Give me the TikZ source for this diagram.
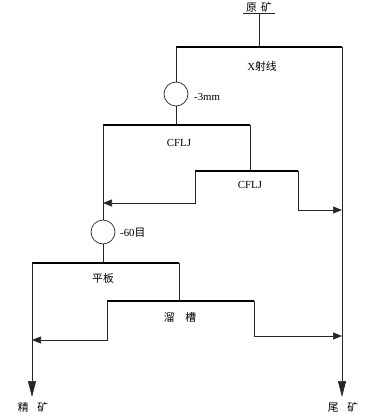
\documentclass[tikz,border=0pt]{standalone}
\usepackage{fontspec}
\setmainfont{Liberation Serif}
\newfontfamily\cjk{Noto Sans CJK SC}
\usetikzlibrary{arrows.meta}
\tikzset{
  thin line/.style={line width=0.7pt, draw=black!85},
  bar/.style={line width=2pt, draw=black},
  lbl/.style={font=\fontsize{10.8}{13}\selectfont, inner sep=1pt},
  circ/.style={circle, draw=black!85, line width=0.7pt, minimum size=24pt, inner sep=0pt},
  harrow/.style={thin line, -{Triangle[length=9pt,width=7pt]}},
  varrow/.style={thin line, -{Triangle[length=16pt,width=8pt]}},
}
\begin{document}
\begin{tikzpicture}[x=1pt,y=-1pt]
\useasboundingbox (0,0) rectangle (373,418);
% feed
\node[lbl] (raw) at (259,7) {\cjk 原\hspace{0.4em}矿};
\draw[thin line] ([xshift=-2pt]raw.south west) -- ([xshift=2pt]raw.south east);
% X-ray bar
\coordinate (xL) at (176,47); \coordinate (xR) at (342,47); \coordinate (xT) at (259,47);
\draw[bar] (xL) -- (xR);
\draw[thin line] (raw.south) -- (xT);
\node[lbl] (xt) at (262,66) {X{\cjk 射线}};
% screen -3mm
\node[circ] (c1) at (176,94) {};
\node[lbl, anchor=west] (l1) at (193,97) {-3mm};
\draw[thin line] (xL) -- (c1.north);
% CFLJ 1
\coordinate (aL) at (103,125); \coordinate (aR) at (250,125); \coordinate (aT) at (176,125);
\draw[bar] (aL) -- (aR);
\draw[thin line] (c1.south) -- (aT);
\node[lbl] (at) at (179,143) {CFLJ};
% CFLJ 2
\coordinate (bL) at (195,171); \coordinate (bR) at (298,171); \coordinate (bT) at (250,171);
\draw[bar] (bL) -- (bR);
\draw[thin line] (aR) -- (bT);
\node[lbl] (bt) at (250,185) {CFLJ};
\coordinate (bLd) at (195,203); \coordinate (bLe) at (103,203);
\coordinate (bRd) at (298,210); \coordinate (bRe) at (342,210);
\draw[harrow] (bL) -- (bLd) -- (bLe);
\draw[harrow] (bR) -- (bRd) -- (bRe);
% screen -60
\node[circ] (c2) at (103,232) {};
\node[lbl, anchor=west] (l2) at (119,233) {-60{\cjk 目}};
\draw[thin line] (aL) -- (c2.north);
% table
\coordinate (pL) at (32,263); \coordinate (pR) at (179,263); \coordinate (pT) at (103,263);
\draw[bar] (pL) -- (pR);
\draw[thin line] (c2.south) -- (pT);
\node[lbl] (pt) at (103,278) {\cjk 平板};
% sluice
\coordinate (sL) at (107,301); \coordinate (sR) at (254,301); \coordinate (sT) at (179,301);
\draw[bar] (sL) -- (sR);
\draw[thin line] (pR) -- (sT);
\node[lbl] (st) at (180,317) {\cjk 溜\hspace{1em}槽};
\coordinate (sLd) at (107,340); \coordinate (sLe) at (32,340);
\coordinate (sRd) at (254,336); \coordinate (sRe) at (342,336);
\draw[harrow] (sL) -- (sLd) -- (sLe);
\draw[harrow] (sR) -- (sRd) -- (sRe);
% outputs
\coordinate (cE) at (32,397); \coordinate (tE) at (342,397);
\draw[varrow] (pL) -- (cE);
\draw[varrow] (xR) -- (tE);
\node[lbl] (conc) at (33,407) {\cjk 精\hspace{0.8em}矿};
\node[lbl] (tail) at (343,407) {\cjk 尾\hspace{0.8em}矿};
\end{tikzpicture}
\end{document}
